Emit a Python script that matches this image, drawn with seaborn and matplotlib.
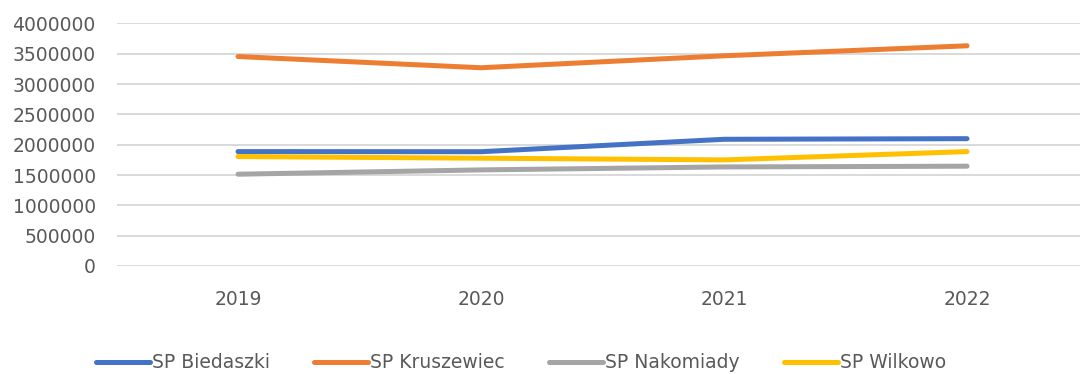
import matplotlib
matplotlib.use("Agg")
import matplotlib.pyplot as plt
import seaborn as sns
import pandas as pd

years = ["2019", "2020", "2021", "2022"]
schools = ["SP Biedaszki", "SP Kruszewiec", "SP Nakomiady", "SP Wilkowo"]
biedaszki = [1887000, 1885000, 2090000, 2100000]
kruszewiec = [3455000, 3270000, 3467000, 3632000]
nakomiady = [1514000, 1585000, 1634000, 1646000]
wilkowo = [1805000, 1778000, 1750000, 1887000]
y_ticks = [0, 500000, 1000000, 1500000, 2000000, 2500000, 3000000, 3500000, 4000000]

colors = ["#4472C4", "#ED7D31", "#A5A5A5", "#FFC000"]

rows = []
for name, vals in zip(schools, [biedaszki, kruszewiec, nakomiady, wilkowo]):
    for yr, v in zip(years, vals):
        rows.append({"Rok": yr, "Wartość": v, "Szkoła": name})
df = pd.DataFrame(rows)

sns.set_style("white")
plt.rcParams["font.family"] = ["DejaVu Sans"]
text_color = "#595959"

fig = plt.figure(figsize=(10.8, 3.74), dpi=100)
ax = fig.add_axes([0.1079, 0.2888, 0.9, 0.6484])

sns.lineplot(data=df, x="Rok", y="Wartość", hue="Szkoła", hue_order=schools,
             palette=colors, linewidth=3.6, ax=ax, legend=False,
             solid_capstyle="round", sort=False)

ax.set_xlim(-0.5, 3.5)
ax.set_ylim(0, 4000000)
ax.set_yticks(y_ticks)
ax.set_yticklabels([str(t) for t in y_ticks])
ax.set_xlabel("")
ax.set_ylabel("")
ax.grid(axis="y", color="#D9D9D9", linewidth=1.4)
ax.set_axisbelow(True)
for s in ax.spines.values():
    s.set_visible(False)
ax.tick_params(axis="y", length=0, pad=15, labelsize=13.5, labelcolor=text_color)
ax.tick_params(axis="x", length=0, pad=17, labelsize=13.5, labelcolor=text_color)

handles = [plt.Line2D([0], [0], color=c, linewidth=3.6, solid_capstyle="round") for c in colors]
fig.legend(handles, schools, loc="center", bbox_to_anchor=(0.4823, 0.03), ncol=4,
           frameon=False, fontsize=13.5, labelcolor=text_color,
           handlelength=2.9, handletextpad=0.1, columnspacing=2.35)

fig.savefig("out.png", dpi=100)
